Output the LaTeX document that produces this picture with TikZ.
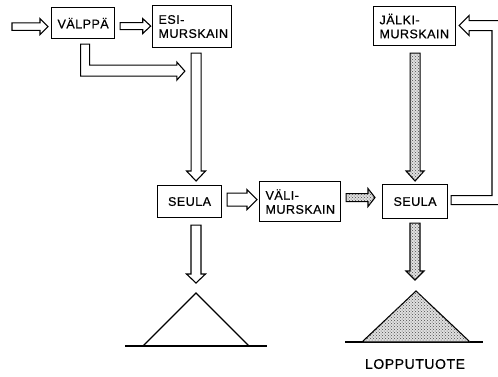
\documentclass[tikz,border=0pt]{standalone}
\usepackage{fontspec}
\setmainfont{Liberation Sans}[LetterSpace=4, FakeBold=0.6]
\usetikzlibrary{calc,patterns}

% straight block arrow pointing right: style, tail point, tip point,
% half shaft width, half head width, head length
\newcommand\rightblock[6]{%
  \draw[#1] let \p1=(#2), \p2=(#3) in
    (\x1,\y2+#4) -- (\x2-#6,\y2+#4) -- (\x2-#6,\y2+#5) -- (\x2,\y2)
    -- (\x2-#6,\y2-#5) -- (\x2-#6,\y2-#4) -- (\x1,\y2-#4) -- cycle;}
% straight block arrow pointing down (same arguments)
\newcommand\downblock[6]{%
  \draw[#1] let \p1=(#2), \p2=(#3) in
    (\x2-#4,\y1) -- (\x2-#4,\y2+#6) -- (\x2-#5,\y2+#6) -- (\x2,\y2)
    -- (\x2+#5,\y2+#6) -- (\x2+#4,\y2+#6) -- (\x2+#4,\y1) -- cycle;}

\begin{document}
\begin{tikzpicture}[x=1pt,y=-1pt,
  line join=miter,
  box/.style={draw, line width=1.1pt, inner xsep=6pt, inner ysep=0pt,
    anchor=north west, font=\fontsize{12.5}{14}\selectfont},
  hollow/.style={draw, line width=1.1pt, fill=white},
  screened/.style={draw, line width=1.1pt, fill=black!12,
    postaction={pattern=crosshatch dots, pattern color=black!70}},
  ground/.style={line width=1.1pt}]
\useasboundingbox (0,0) rectangle (498,376);
\clip (0,0) rectangle (498,376);

% machines and screens
\node[box, text width=51pt, minimum height=31pt, align=left] (valppa) at (51,7) {VÄLPPÄ};
\node[box, text width=67pt, minimum height=42pt, align=left] (esi) at (152,5) {ESI-\\MURSKAIN};
\node[box, text width=52pt, minimum height=32pt, align=center] (seulaA) at (157,185) {SEULA};
\node[box, text width=69pt, minimum height=40pt, align=left] (vali) at (259,181) {VÄLI-\\MURSKAIN};
\node[box, text width=70pt, minimum height=39pt, align=left] (jalki) at (373,6) {JÄLKI-\\MURSKAIN};
\node[box, text width=53pt, minimum height=34pt, align=center] (seulaB) at (382,184) {SEULA};

% stock piles
\coordinate (apexA) at (196,293);
\coordinate (apexB) at (416,291);
\draw[ground] ($(apexA)+(-71,53)$) -- ($(apexA)+(71,53)$);
\draw[ground] ($(apexA)+(-53,53)$) -- (apexA) -- ($(apexA)+(53,53)$);
\draw[ground] ($(apexB)+(-71,51)$) -- ($(apexB)+(67,51)$);
\draw[screened] ($(apexB)+(-54,51)$) -- (apexB) -- ($(apexB)+(54,51)$) -- cycle;
\node[font=\fontsize{14}{16}\selectfont, inner sep=0pt] (tuote) at (415,364) {LOPPUTUOTE};

% feed
\coordinate (feed) at (12,26);
\rightblock{hollow}{feed}{$(valppa.west)+(-3,3.5)$}{3.75}{8}{8}
\rightblock{hollow}{$(valppa.east)+(5,3)$}{$(esi.west)+(-1.3,-0.5)$}{3.5}{7.5}{8}

% fines bypassing the primary crusher
\draw[hollow] let \p1=($(valppa.south)+(2,5)$), \p2=($(esi.south)+(-7.2,23)$) in
  (\x1-4.5,\y1) -- (\x1-4.5,\y2-5) -- (\x2-8,\y2-5) -- (\x2-8,\y2-9) -- (\x2,\y2)
  -- (\x2-8,\y2+9) -- (\x2-8,\y2+6) -- (\x1+4.5,\y2+6) -- (\x1+4.5,\y1) -- cycle;

\downblock{hollow}{$(esi.south)+(3.5,5)$}{$(seulaA.north)+(6.5,-4)$}{5}{9.5}{10}
\rightblock{hollow}{$(seulaA.east)+(5,-2)$}{$(vali.west)+(-2,-2)$}{6.5}{10}{10}
\downblock{hollow}{$(seulaA.south)+(6,7)$}{$(apexA)+(0,-10)$}{5}{9.5}{9}

% product line
\rightblock{screened}{$(vali.east)+(5,-4)$}{$(seulaB.west)+(-7,-4)$}{4}{9}{7}
\downblock{screened}{$(jalki.south)+(-2,7)$}{$(seulaB.north)+(0,-3)$}{5}{9}{10}
\downblock{screened}{$(seulaB.south)+(0.5,4)$}{$(apexB)+(-1,-11)$}{5}{9}{9}

% oversize returned to the tertiary crusher
\draw[hollow] let \p1=($(seulaB.east)+(3,-1.5)$), \p2=($(jalki.east)+(3,-0.5)$) in
  (\x1,\y1+4.5) -- (492,\y1+4.5) -- (492,\y2-5) -- (\x2+10,\y2-5) -- (\x2+10,\y2-10)
  -- (\x2,\y2) -- (\x2+10,\y2+10) -- (\x2+10,\y2+5) -- (502,\y2+5) -- (502,\y1-4.5)
  -- (\x1,\y1-4.5) -- cycle;
\end{tikzpicture}
\end{document}
